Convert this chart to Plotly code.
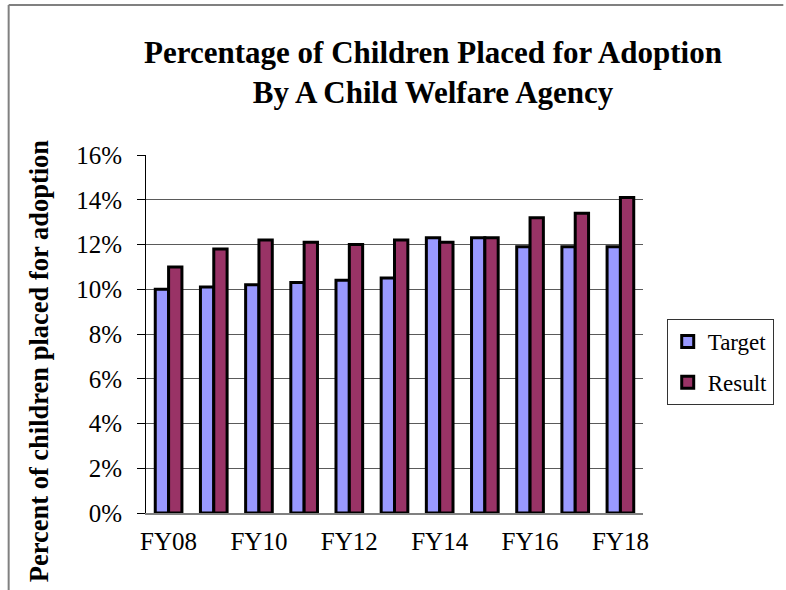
import plotly.graph_objects as go

categories = ["FY08", "FY09", "FY10", "FY11", "FY12", "FY13", "FY14", "FY15", "FY16", "FY17", "FY18"]
target = [0.100, 0.101, 0.102, 0.103, 0.104, 0.105, 0.123, 0.123, 0.119, 0.119, 0.119]
result = [0.110, 0.118, 0.122, 0.121, 0.120, 0.122, 0.121, 0.123, 0.132, 0.134, 0.141]
tick_labels = ["FY08", "FY10", "FY12", "FY14", "FY16", "FY18"]
y_ticks = [0, 0.02, 0.04, 0.06, 0.08, 0.10, 0.12, 0.14, 0.16]

FONT = "Liberation Serif"
W, H = 786, 590
L, R, T, B = 146, 137, 155, 77
pw, ph = W - L - R, H - T - B

fig = go.Figure()
fig.add_trace(go.Bar(name="Target", x=categories, y=target, legendgroup="a",
                     marker=dict(color="#9999FF", line=dict(color="black", width=3))))
fig.add_trace(go.Bar(name="Result", x=categories, y=result, legendgroup="b",
                     marker=dict(color="#993366", line=dict(color="black", width=3))))

fig.update_layout(
    width=W, height=H,
    margin=dict(l=L, r=R, t=T, b=B, pad=0),
    paper_bgcolor="white", plot_bgcolor="white",
    font=dict(family=FONT, color="black", size=24),
    barmode="group", bargap=0.41, bargroupgap=0,
    title=dict(text="<b>Percentage of Children Placed for Adoption<br>By A Child Welfare Agency</b>",
               x=433 / W, xanchor="center", y=1 - 63 / H, yanchor="top",
               font=dict(family=FONT, size=31, color="black")),
    showlegend=True,
    legend=dict(x=(673 - L) / pw, xanchor="left", y=(H - B - 319) / ph, yanchor="top",
                bordercolor="#333333", borderwidth=1, bgcolor="white",
                traceorder="grouped", tracegroupgap=8, itemwidth=30,
                font=dict(family=FONT, size=23, color="black")),
    xaxis=dict(type="category", tickmode="array", tickvals=tick_labels, ticktext=tick_labels,
               showline=True, linecolor="#808080", linewidth=2, ticks="", showgrid=False,
               ticklabelstandoff=5, tickfont=dict(family=FONT, size=25)),
    yaxis=dict(range=[0, 0.16], tickvals=y_ticks, tickformat=".0%",
               showline=True, linecolor="black", linewidth=1,
               ticks="outside", ticklen=8, tickcolor="black", tickwidth=1,
               showgrid=True, gridcolor="#5a5a5a", gridwidth=1.2, zeroline=False,
               ticklabelstandoff=10, tickfont=dict(family=FONT, size=25)),
)

fig.add_annotation(text="<b>Percent of children placed for adoption</b>", textangle=-90,
                   xref="paper", yref="paper", x=(38 - L) / pw, y=(H - B - 361) / ph,
                   xanchor="center", yanchor="middle", showarrow=False,
                   font=dict(family=FONT, size=26.5, color="black"))

# outer frame (left and top edges)
fig.add_shape(type="line", xref="paper", yref="paper",
              x0=(7 - L) / pw, x1=(7 - L) / pw, y0=(H - B - 5) / ph, y1=(H - B - H - 5) / ph,
              line=dict(color="#808080", width=2))
fig.add_shape(type="line", xref="paper", yref="paper",
              x0=(7 - L) / pw, x1=(W + 5 - L) / pw, y0=(H - B - 5) / ph, y1=(H - B - 5) / ph,
              line=dict(color="#808080", width=2))

fig.write_html("out.html")
